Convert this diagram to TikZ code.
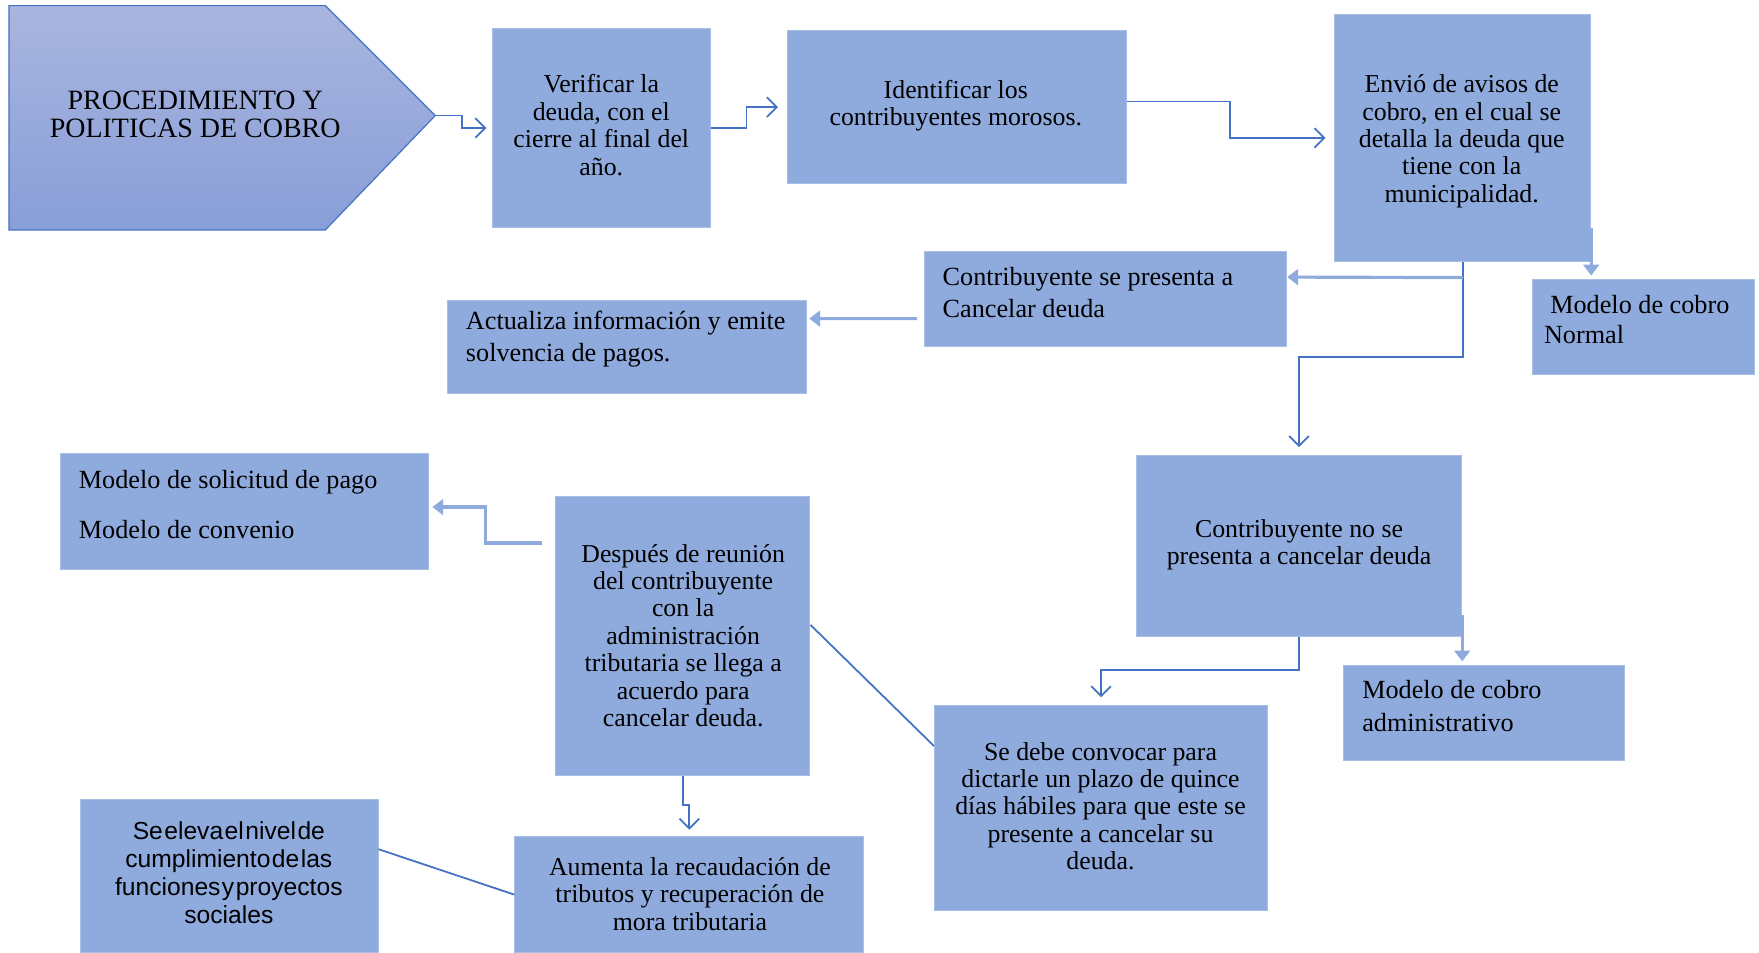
\documentclass[tikz,border=0pt]{standalone}
\usepackage{fontspec}
\setmainfont{Liberation Serif}
\newfontfamily\arialf{Liberation Sans}
\usetikzlibrary{arrows.meta,calc}
\definecolor{boxfill}{HTML}{8FAADC}
\definecolor{boxedge}{HTML}{A9BEE5}
\definecolor{darkc}{HTML}{4472C4}
\definecolor{litec}{HTML}{8FAADC}
\definecolor{ptop}{HTML}{A9B5DE}
\definecolor{pbot}{HTML}{889ED8}
\newcommand\boxnode[5]{\node[box, minimum width={(#4-#2)*0.02cm}, minimum height={(#5-#3)*0.02cm}] (#1) at ({(#2+#4)/2},{(#3+#5)/2}) {};}
\newcommand\tightsp{\spaceskip=0.06em\relax}
\begin{document}
\begin{tikzpicture}[x=0.02cm,y=-0.02cm,
  box/.style={draw=boxedge, line width=0.5pt, fill=boxfill, inner sep=0pt},
  txt/.style={inner sep=0pt, align=center, font=\fontsize{13.1}{13.9}\selectfont},
  ltxt/.style={inner sep=0pt, align=left, anchor=west, font=\fontsize{13.3}{16.4}\selectfont},
  darr/.style={draw=darkc, line width=0.9pt, -{Straight Barb[length=5pt,width=10pt]}},
  dline/.style={draw=darkc, line width=0.9pt},
  larr/.style={draw=litec, line width=1.6pt, -{Triangle[length=5.5pt,width=8pt]}}
]
\useasboundingbox (0,0) rectangle (1568,849);
% pentagon
\path[draw=darkc, line width=0.6pt, top color=ptop, bottom color=pbot] (8,5) -- (290,5) -- (388,103) -- (290,205) -- (8,205) -- cycle;
\coordinate (ptip) at (388,103);
\node[txt, font=\fontsize{14.2}{14.4}\selectfont, text=black] (pt) at (174,102) {PROCEDIMIENTO Y\\POLITICAS DE COBRO};
% boxes
\boxnode{b2}{439}{25}{633}{203}
\boxnode{b3}{702}{27}{1004}{164}
\boxnode{b4}{1190}{13}{1418}{233}
\boxnode{b5}{824}{224}{1147}{309}
\boxnode{b6}{399}{268}{719}{351}
\boxnode{b7}{1366}{249}{1564}{334}
\boxnode{b8}{1013}{406}{1303}{567}
\boxnode{b9}{1198}{593}{1448}{678}
\boxnode{b10}{833}{629}{1130}{812}
\boxnode{b11}{54}{404}{382}{508}
\boxnode{b12}{495}{443}{722}{691}
\boxnode{b13}{459}{746}{770}{849}
\boxnode{b14}{72}{713}{337}{849}
% texts
\node[txt] (t2) at (536,111.5) {Verificar la\\deuda, con el\\cierre al final del\\año.};
\node[txt] (t3) at (852,94) {Identificar los\\contribuyentes morosos.};
\node[txt] (t4) at (1303,126) {Envió de avisos de\\cobro, en el cual se\\detalla la deuda que\\tiene con la\\municipalidad.};
\node[ltxt] (t5) at (840,260.5) {Contribuyente se presenta a\\Cancelar deuda};
\node[ltxt] (t6) at (415,302.5) {Actualiza información y emite\\solvencia de pagos.};
\node[ltxt, font=\fontsize{13.3}{15.3}\selectfont] (t7) at (1376,284.5) {\hspace{3.2pt}Modelo de cobro\\Normal};
\node[txt] (t8) at (1158,485.5) {Contribuyente no se\\presenta a cancelar deuda};
\node[ltxt] (t9) at (1214,629.5) {Modelo de cobro\\administrativo};
\node[txt] (t10) at (981,718.5) {Se debe convocar para\\dictarle un plazo de quince\\días hábiles para que este se\\presente a cancelar su\\deuda.};
\node[ltxt, font=\fontsize{13.3}{13.9}\selectfont] (t11) at (70,449.5) {Modelo de solicitud de pago\\[11.6pt]Modelo de convenio};
\node[txt] (t12) at (609,566.5) {Después de reunión\\del contribuyente\\con la\\administración\\tributaria se llega a\\acuerdo para\\cancelar deuda.};
\node[txt] (t13) at (615,797) {Aumenta la recaudación de\\tributos y recuperación de\\mora tributaria};
\node[txt, font=\arialf\fontsize{12.5}{14.2}\selectfont] (t14) at (204,778) {\tightsp Se eleva el nivel de\\\tightsp cumplimiento de las\\\tightsp funciones y proyectos\\sociales};
% connectors
\draw[darr] (ptip) -- ++(24,0) |- ($(b2.west)+(-5,0)$);
\draw[darr] (b2.east) -- ++(32,0) |- ($(b3.west)+(-8,0)$);
\draw[darr] ($(b3.east)+(0,-5)$) -- ++(92,0) |- ($(b4.west)+(-8,0)$);
\draw[darr] (b4.south) -- ++(0,85) -| ($(b8.north)+(0,-7)$);
\draw[larr] ($(b4.south)+(0,14)$) -- ($(b5.east)+(0,-19.5)$);
\draw[larr] ($(b4.south east)+(0,-30)$) -- ($(b4.south east |- b7.north)+(0,-3)$);
\draw[larr] ($(b5.west)+(-6,17.5)$) -- ($(b6.east)+(2,-25.5)$);
\draw[darr] (b8.south) -- ++(0,30) -| ($(b10.north)+(0,-7)$);
\draw[larr] ($(b8.south east)+(0,-19)$) -- ($(b8.south east |- b9.north)+(0,-3)$);
\draw[dline] ($(b12.east)+(0,-10)$) -- ($(b10.west)+(0,-55.5)$);
\draw[larr] ($(b12.west)+(-11,-83)$) -- ++(-51,0) |- ($(b11.east)+(3,-4)$);
\draw[darr] (b12.south) -- ++(0,26) -| ($(b13.north)+(0,-6)$);
\draw[dline] ($(b14.east)+(0,-24)$) -- (b13.west);
\end{tikzpicture}
\end{document}
